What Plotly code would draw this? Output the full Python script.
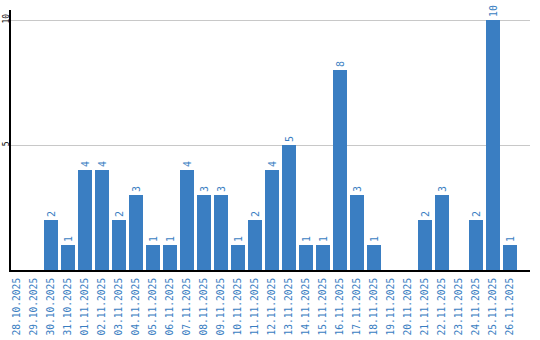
import plotly.graph_objects as go

dates = ["28.10.2025", "29.10.2025", "30.10.2025", "31.10.2025", "01.11.2025", "02.11.2025",
         "03.11.2025", "04.11.2025", "05.11.2025", "06.11.2025", "07.11.2025", "08.11.2025",
         "09.11.2025", "10.11.2025", "11.11.2025", "12.11.2025", "13.11.2025", "14.11.2025",
         "15.11.2025", "16.11.2025", "17.11.2025", "18.11.2025", "19.11.2025", "20.11.2025",
         "21.11.2025", "22.11.2025", "23.11.2025", "24.11.2025", "25.11.2025", "26.11.2025"]
values = [0, 0, 2, 1, 4, 4, 2, 3, 1, 1, 4, 3, 3, 1, 2, 4, 5, 1, 1, 8, 3, 1, 0, 0, 2, 3, 0, 2, 10, 1]
y_ticks = [5, 10]

BLUE = "#3a7ec2"
labels = [str(v) if v else "" for v in values]

fig = go.Figure(go.Bar(
    x=list(range(len(dates))), y=values, text=labels,
    textposition="outside", textangle=-90,
    textfont=dict(family="DejaVu Sans Mono", size=10, color=BLUE),
    marker=dict(color=BLUE, line=dict(width=0)),
    width=0.82, cliponaxis=False,
))

fig.update_layout(
    width=540, height=340,
    margin=dict(l=11, r=10, t=10, b=70),
    paper_bgcolor="white", plot_bgcolor="white",
    showlegend=False,
    xaxis=dict(
        tickmode="array", tickvals=list(range(len(dates))), ticktext=dates,
        tickangle=-90, range=[-0.353, 30.18], automargin=False,
        tickfont=dict(family="DejaVu Sans Mono", size=9.6, color=BLUE),
        showgrid=False, showline=True, linecolor="black", linewidth=2,
        ticks="", zeroline=False, ticklabelstandoff=2,
    ),
    yaxis=dict(
        range=[0, 10.4], tickvals=y_ticks, ticktext=[str(t) for t in y_ticks],
        tickangle=-90, automargin=False,
        tickfont=dict(family="DejaVu Sans Mono", size=8, color="black"),
        showgrid=True, gridcolor="#c8c8c8", gridwidth=1,
        showline=True, linecolor="black", linewidth=2,
        ticks="", zeroline=False, ticklabelstandoff=-3,
    ),
    bargap=0,
)

fig.write_html("out.html")
